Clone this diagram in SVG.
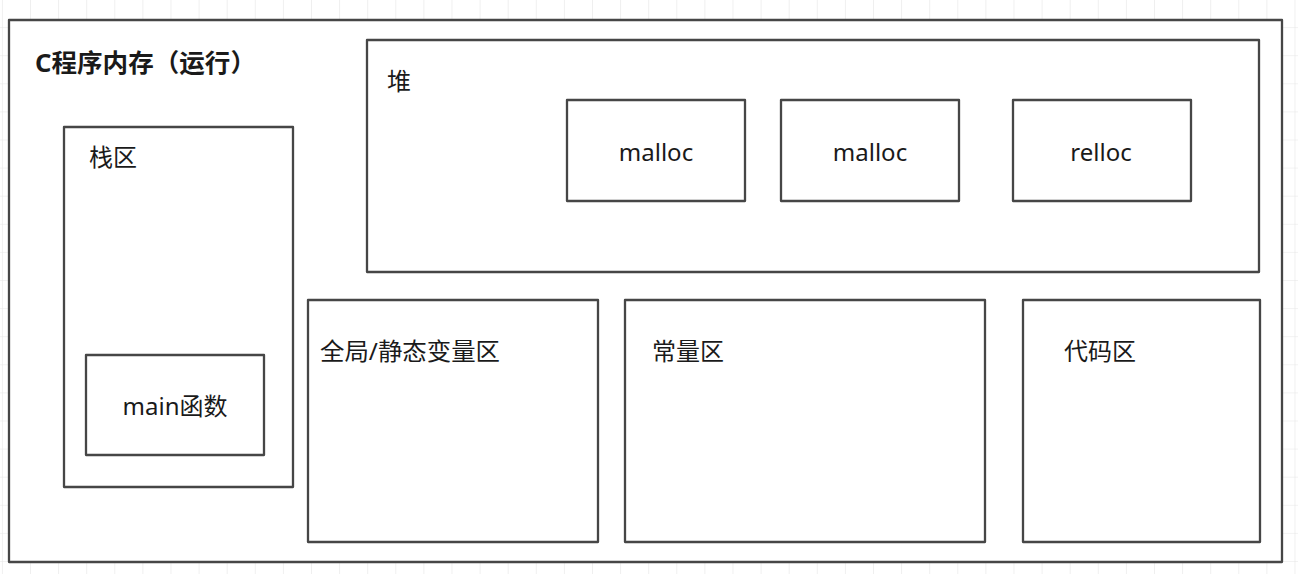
<svg xmlns="http://www.w3.org/2000/svg" width="1298" height="574" viewBox="0 0 1298 574">
<style>
.box{fill:#ffffff;stroke:#464646;stroke-width:2.3;stroke-linejoin:round}
.t{font-family:"Noto Sans","Noto Sans CJK SC",sans-serif;font-size:24px;fill:#1a1a1a}
.title{font-family:"Noto Sans","Noto Sans CJK SC",sans-serif;font-size:25px;font-weight:bold;fill:#1a1a1a}
</style>
<defs>
<pattern id="grid" x="30" y="-1" width="28.1" height="28.1" patternUnits="userSpaceOnUse">
<path d="M0 0V28.1M0 0H28.1" fill="none" stroke="#e6e6e6" stroke-width="1.2"/>
</pattern>
</defs>
<rect x="0" y="0" width="1298" height="574" fill="#ffffff"/>
<rect x="0" y="0" width="1298" height="574" fill="url(#grid)"/>
<g id="memory">
<rect class="box" x="9" y="20" width="1273" height="542"/>
<text class="title" x="35" y="72" textLength="221" lengthAdjust="spacingAndGlyphs">C程序内存（运行）</text>
</g>
<g id="heap">
<rect class="box" x="367" y="40" width="892" height="232"/>
<text class="t" x="387" y="90">堆</text>
</g>
<g id="malloc1">
<rect class="box" x="567" y="100" width="178" height="101"/>
<text class="t" x="656" y="161" text-anchor="middle">malloc</text>
</g>
<g id="malloc2">
<rect class="box" x="781" y="100" width="178" height="101"/>
<text class="t" x="870" y="161" text-anchor="middle">malloc</text>
</g>
<g id="relloc">
<rect class="box" x="1013" y="100" width="178" height="101"/>
<text class="t" x="1101" y="161" text-anchor="middle">relloc</text>
</g>
<g id="stack">
<rect class="box" x="64" y="127" width="229" height="360"/>
<text class="t" x="89" y="166">栈区</text>
</g>
<g id="main">
<rect class="box" x="86" y="355" width="178" height="100"/>
<text class="t" x="175" y="415" text-anchor="middle">main函数</text>
</g>
<g id="global">
<rect class="box" x="308" y="300" width="290" height="242"/>
<text class="t" x="320" y="360" textLength="180" lengthAdjust="spacingAndGlyphs">全局/静态变量区</text>
</g>
<g id="const">
<rect class="box" x="625" y="300" width="360" height="242"/>
<text class="t" x="652" y="360">常量区</text>
</g>
<g id="code">
<rect class="box" x="1023" y="300" width="237" height="242"/>
<text class="t" x="1064" y="360">代码区</text>
</g>
<g id="connectors"></g>
</svg>
